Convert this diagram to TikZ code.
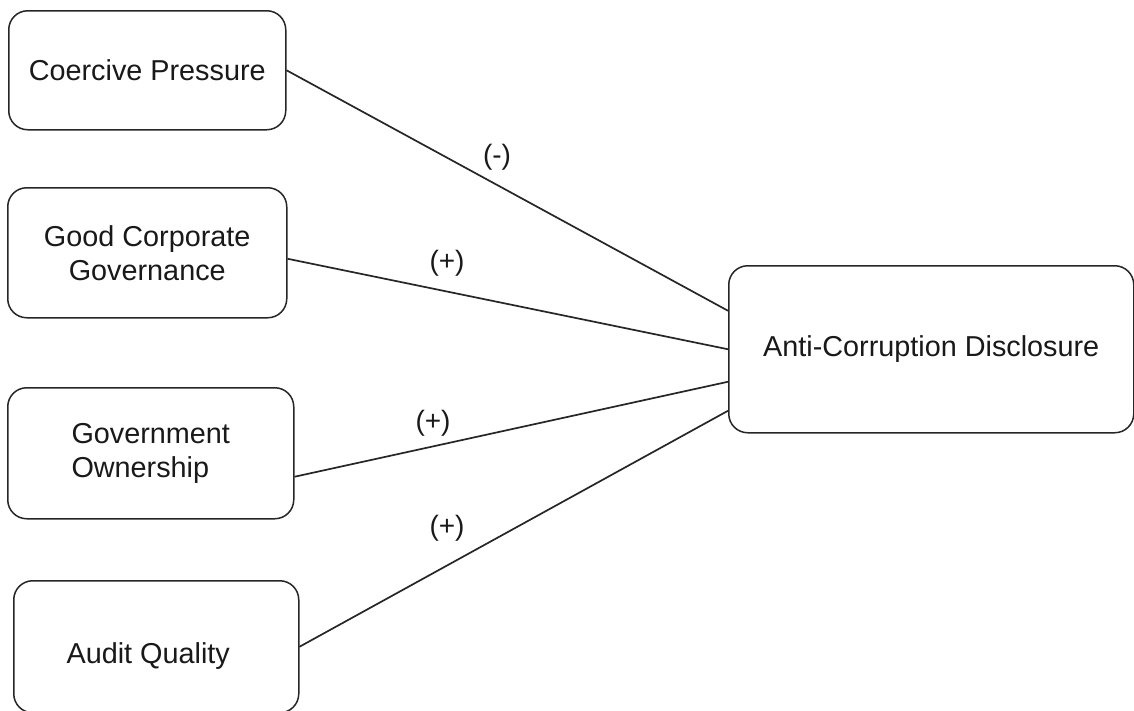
\documentclass[tikz,border=0pt]{standalone}
\usepackage{fontspec}
\setmainfont{Liberation Sans}
\begin{document}
\begin{tikzpicture}[x=1pt,y=-1pt,
  box/.style={draw=black!85, line width=1.5pt, rounded corners=19pt, anchor=north west, inner sep=0pt, font=\fontsize{28.8}{34}\selectfont, align=center, text=black!90},
  link/.style={draw=black!85, line width=1.7pt},
  sign/.style={font=\fontsize{28}{34}\selectfont, text=black!90}]
\fill[white] (0,0) rectangle (1134,710);
\useasboundingbox (0,0) rectangle (1134,710);
\node[box, minimum width=277pt, minimum height=119pt] (cp) at (8,10) {Coercive Pressure};
\node[box, minimum width=279pt, minimum height=130pt] (gcg) at (7,187) {Good Corporate\\Governance};
\node[box, minimum width=286pt, minimum height=131pt, align=left] (go) at (7,387) {Government\\Ownership};
\node[box, minimum width=285pt, minimum height=132pt] (aq) at (13,580) {\raisebox{-9pt}[\height][\depth]{Audit Quality}\kern16pt};
\node[box, minimum width=405pt, minimum height=167pt] (acd) at (728,265) {Anti-Corruption Disclosure};
\draw[link] (cp.east) -- ([yshift=38.5pt]acd.west);
\draw[link] ([yshift=-6pt]gcg.east) -- (acd.west);
\draw[link] ([yshift=-23.5pt]go.east) -- ([yshift=-32.5pt]acd.west);
\draw[link] (aq.east) -- ([yshift=-61.5pt]acd.west);
\node[sign] (s1) at (497,157) {(-)};
\node[sign] (s2) at (447,263) {(+)};
\node[sign] (s3) at (433,423) {(+)};
\node[sign] (s4) at (447,528) {(+)};
\end{tikzpicture}
\end{document}
